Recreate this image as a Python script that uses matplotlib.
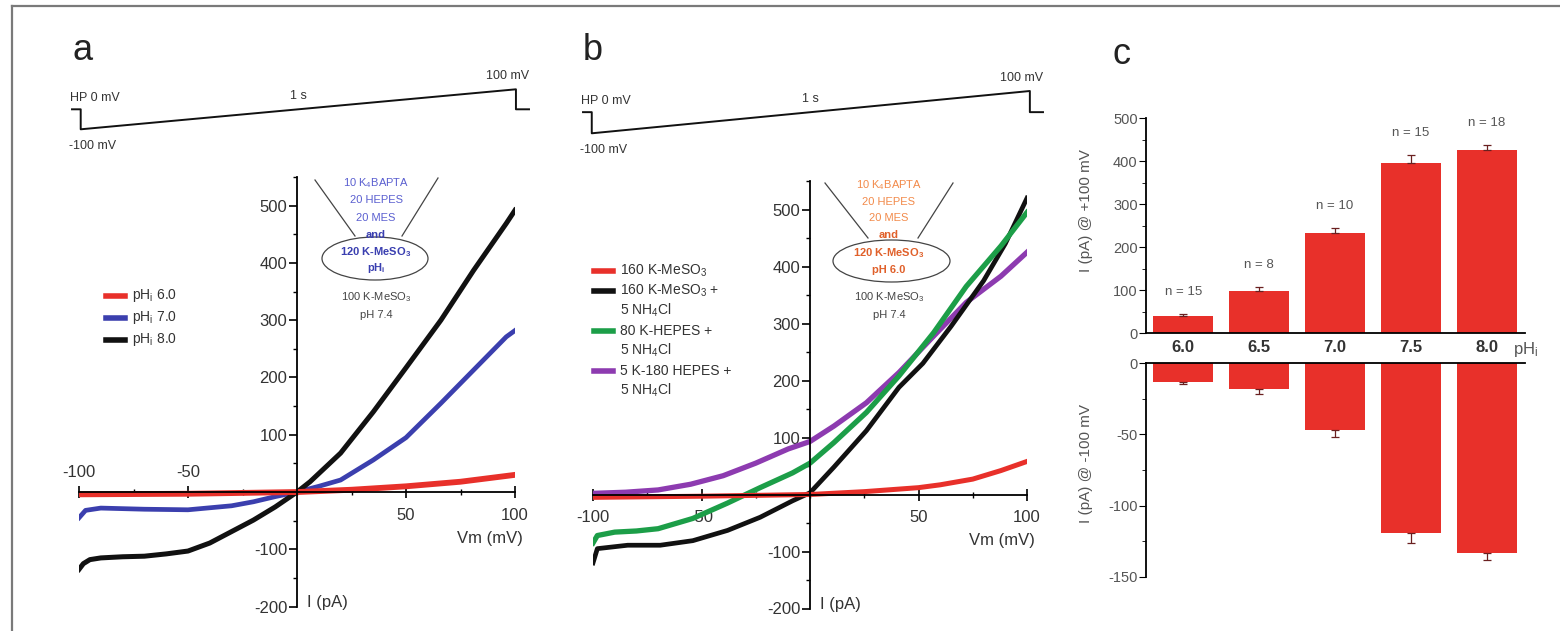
import matplotlib.pyplot as plt
from matplotlib.lines import Line2D
from matplotlib.patches import Ellipse
from matplotlib.transforms import Affine2D
from matplotlib.ticker import MultipleLocator

plt.rcParams['font.family'] = ['Liberation Sans Narrow', 'Liberation Sans', 'DejaVu Sans']
plt.rcParams['mathtext.default'] = 'regular'
plt.rcParams['axes.linewidth'] = 1.3
plt.rcParams['axes.unicode_minus'] = False

W, H = 1560, 631
TXT = '#333333'

# voltage command: hold at 0 mV, step to -100 mV, 1 s ramp to +100 mV, back to 0
ramp_t = [-0.02, 0, 0, 1, 1, 1.03]
ramp_v = [0, 0, -100, 100, 0, 0]

# panel a: I-V curves for three internal pH values
v_a_ph6 = [-100, -50, 0, 25, 50, 75, 100]
i_a_ph6 = [-4, -3, 0, 4, 10, 18, 30]
v_a_ph7 = [-100, -97, -90, -70, -50, -30, -20, -10, 0, 10, 20, 35, 50, 66, 81, 96, 100]
i_a_ph7 = [-45, -32, -28, -30, -31, -24, -17, -8, 0, 10, 21, 56, 95, 155, 213, 271, 282]
v_a_ph8 = [-100, -98, -95, -90, -80, -70, -60, -50, -40, -30, -20, -10, 0, 6, 20, 35, 50, 66, 81, 96, 100]
i_a_ph8 = [-135, -125, -118, -115, -113, -112, -108, -103, -89, -69, -49, -26, 0, 18, 68, 140, 217, 300, 387, 469, 492]

# panel b: I-V curves with NH4Cl loading
v_b_kmes = [-100, -50, 0, 25, 50, 60, 75, 88, 100]
i_b_kmes = [-5, -3, 0, 5, 12, 17, 27, 42, 58]
v_b_nh4 = [-100, -98, -84, -69, -54, -38, -23, -8, 0, 11, 26, 41, 52, 65, 80, 90, 100]
i_b_nh4 = [-120, -95, -89, -89, -81, -63, -40, -11, 3, 48, 112, 188, 230, 295, 375, 440, 520]
v_b_hepes80 = [-100, -98, -90, -80, -70, -54, -38, -23, -8, 0, 11, 26, 41, 57, 72, 88, 100]
i_b_hepes80 = [-85, -72, -66, -64, -60, -42, -15, 12, 38, 55, 91, 144, 208, 284, 365, 436, 495]
v_b_hepes180 = [-100, -85, -70, -55, -40, -25, -10, 0, 11, 26, 41, 57, 72, 88, 100]
i_b_hepes180 = [2, 4, 8, 18, 33, 55, 80, 93, 120, 161, 214, 278, 337, 383, 425]

# panel c: mean current at +100 / -100 mV vs internal pH
ph_labels = ['6.0', '6.5', '7.0', '7.5', '8.0']
i_pos = [40, 99, 234, 395, 426]
err_pos = [4, 9, 11, 20, 12]
i_neg = [-13, -18, -47, -119, -133]
err_neg = [1.5, 3.5, 4.5, 7, 5]
n_cells = [15, 8, 10, 15, 18]

RED = '#e8302a'
BLUE = '#3b3fae'
GREEN = '#1c9e48'
PURPLE = '#8d3bb0'

fig = plt.figure(figsize=(W / 100, H / 100), dpi=100)
pix = Affine2D().scale(1 / W, -1 / H).translate(0, 1) + fig.transFigure


def px_axes(x0, y0, x1, y1):
    return fig.add_axes([x0 / W, 1 - y1 / H, (x1 - x0) / W, (y1 - y0) / H])


# outer frame
fig.add_artist(Line2D([12, 12], [6, 700], color='#7a7a7a', lw=1.6, transform=pix))
fig.add_artist(Line2D([12, 1600], [6, 6], color='#7a7a7a', lw=1.6, transform=pix))

for lab, (x, y) in zip('abc', [(72, 50), (583, 50), (1113, 55)]):
    fig.text(x, y, lab, transform=pix, fontsize=26, color='#222222',
             ha='left', va='center', family=['Liberation Sans', 'DejaVu Sans'])


def protocol(box):
    ax = px_axes(*box)
    ax.plot(ramp_t, ramp_v, color='#111111', lw=1.4, clip_on=False)
    ax.set_xlim(-0.02, 1.03)
    ax.set_ylim(-100, 100)
    ax.axis('off')
    kw = dict(textcoords='offset pixels', fontsize=9, color=TXT)
    ax.annotate('HP 0 mV', (-0.02, 0), xytext=(-2, 11), ha='left', va='center', **kw)
    ax.annotate('-100 mV', (0, -100), xytext=(-12, -17), ha='left', va='center', **kw)
    ax.annotate('1 s', (0.5, 0), xytext=(0, 13), ha='center', va='center', **kw)
    ax.annotate('100 mV', (1.03, 100), xytext=(0, 13), ha='right', va='center', **kw)


protocol((72, 89.3, 529, 129.3))
protocol((583, 91, 1043, 133.3))


def iv_axes(box, neg_above):
    ax = px_axes(*box)
    ax.set_xlim(-100, 100)
    ax.set_ylim(-200, 550)
    for s in ('top', 'right'):
        ax.spines[s].set_visible(False)
    ax.spines['left'].set_position(('data', 0))
    ax.spines['bottom'].set_position(('data', 0))
    ax.spines['left'].set_bounds(-200, 550)
    ax.set_yticks([-200, -100, 100, 200, 300, 400, 500])
    ax.yaxis.set_minor_locator(MultipleLocator(50))
    ax.tick_params(axis='y', which='major', direction='out', length=6, width=1.2,
                   labelsize=12, labelcolor=TXT, pad=1)
    ax.tick_params(axis='y', which='minor', direction='out', length=3, width=1.0)
    ax.set_xticks([-100, -50, 50, 100])
    ax.xaxis.set_minor_locator(MultipleLocator(25))
    ax.tick_params(axis='x', which='major', direction='inout', length=8, width=1.2,
                   labelbottom=False)
    ax.tick_params(axis='x', which='minor', direction='inout', length=5, width=1.0)
    for v in [-100, -50, 50, 100]:
        dy = 20 if (v < 0 and neg_above) else -23
        ax.annotate(str(v), (v, 0), xytext=(0, dy), textcoords='offset pixels',
                    ha='center', va='center', fontsize=12, color=TXT, zorder=1)
    ax.annotate('Vm (mV)', (100, 0), xytext=(8, -46), textcoords='offset pixels',
                ha='right', va='center', fontsize=12, color=TXT)
    ax.annotate('I (pA)', (0, -200), xytext=(10, 4), textcoords='offset pixels',
                ha='left', va='center', fontsize=12, color=TXT)
    return ax


ax_a = iv_axes((79, 177, 515, 606.6), True)
ax_a.plot(v_a_ph7, i_a_ph7, color=BLUE, lw=3.4, solid_joinstyle='round')
ax_a.plot(v_a_ph8, i_a_ph8, color='#111111', lw=3.6, solid_joinstyle='round')
ax_a.plot(v_a_ph6, i_a_ph6, color=RED, lw=4.2, solid_joinstyle='round')

ax_b = iv_axes((593, 181, 1027, 608.5), False)
ax_b.plot(v_b_hepes180, i_b_hepes180, color=PURPLE, lw=3.8, solid_joinstyle='round')
ax_b.plot(v_b_nh4, i_b_nh4, color='#111111', lw=3.4, solid_joinstyle='round')
ax_b.plot(v_b_hepes80, i_b_hepes80, color=GREEN, lw=3.8, solid_joinstyle='round')
ax_b.plot(v_b_kmes, i_b_kmes, color=RED, lw=3.6, solid_joinstyle='round')


def legend_rows(x, rows):
    for y, color, text in rows:
        if color:
            fig.add_artist(Line2D([x, x + 19], [y, y], color=color, lw=4, transform=pix))
        fig.text(x + 26, y, text, transform=pix, fontsize=10, color=TXT,
                 ha='left', va='center')


legend_rows(106, [(296, RED, 'pH$_i$ 6.0'), (318, BLUE, 'pH$_i$ 7.0'),
                  (340, '#111111', 'pH$_i$ 8.0')])
legend_rows(594, [(271, RED, '160 K-MeSO$_3$'),
                  (291, '#111111', '160 K-MeSO$_3$ +'), (310, None, '5 NH$_4$Cl'),
                  (331, GREEN, '80 K-HEPES +'), (350, None, '5 NH$_4$Cl'),
                  (371, PURPLE, '5 K-180 HEPES +'), (390, None, '5 NH$_4$Cl')])


def pipette(cx, left, right, ell, lines, c_light, c_bold):
    for seg in (left, right):
        fig.add_artist(Line2D([seg[0], seg[2]], [seg[1], seg[3]], color='#444444',
                              lw=0.9, transform=pix))
    fig.add_artist(Ellipse(ell[0], ell[1], ell[2], fill=False, ec='#444444', lw=0.9,
                           transform=pix))
    for k, (y, text) in enumerate(lines):
        bold = k >= 3
        fig.text(cx, y, text, transform=pix, fontsize=8, ha='center', va='center',
                 color=c_bold if bold else c_light,
                 fontweight='bold' if bold else 'normal')
    fig.text(cx, 297, '100 K-MeSO$_3$', transform=pix, fontsize=8, ha='center',
             va='center', color='#444444')
    fig.text(cx, 315, 'pH 7.4', transform=pix, fontsize=8, ha='center',
             va='center', color='#444444')


pipette(376, (315, 180, 355, 236), (438, 178, 402, 236), ((375, 258.5), 106, 43),
        [(183, '10 K$_4$BAPTA'), (200, '20 HEPES'), (218, '20 MES'), (235, 'and'),
         (252, '120 K-MeSO$_3$'), (268, 'pH$_i$')], '#5a5fd0', '#3a3fb0')
pipette(889, (825, 183, 868, 238), (953, 183, 918, 238), ((891.5, 261), 117, 42),
        [(185, '10 K$_4$BAPTA'), (202, '20 HEPES'), (218, '20 MES'), (235, 'and'),
         (253, '120 K-MeSO$_3$'), (270, 'pH 6.0')], '#f28a4a', '#e0602a')

# panel c: bar charts
xpos = list(range(len(ph_labels)))
ax_c1 = px_axes(1146, 118, 1525, 333.3)
ax_c1.bar(xpos, i_pos, width=0.79, color=RED)
ax_c1.errorbar(xpos, i_pos, yerr=[[0] * 5, err_pos], fmt='none', ecolor='#6a2020',
               elinewidth=0.9, capsize=3, capthick=0.9)
for x, y, e, n in zip(xpos, i_pos, err_pos, n_cells):
    ax_c1.annotate(f'n = {n}', (x, y + e), xytext=(0, 22), textcoords='offset pixels',
                   ha='center', va='center', fontsize=9.5, color='#555555')
ax_c1.set_xlim(-0.49, 4.5)
ax_c1.set_ylim(0, 500)
ax_c1.spines['top'].set_visible(False)
ax_c1.spines['right'].set_visible(False)
ax_c1.set_yticks([0, 100, 200, 300, 400, 500])
ax_c1.yaxis.set_minor_locator(MultipleLocator(50))
ax_c1.tick_params(axis='y', which='major', length=5, labelsize=10.5, labelcolor='#555555', pad=1)
ax_c1.tick_params(axis='y', which='minor', length=3)
ax_c1.set_xticks(xpos, ph_labels, fontweight='bold')
ax_c1.tick_params(axis='x', length=0, pad=5, labelsize=12, labelcolor='#333333')
ax_c1.annotate('pH$_i$', (1, 0), xycoords='axes fraction', xytext=(-12, -16),
               textcoords='offset pixels', ha='left', va='center', fontsize=12,
               color='#555555')
ax_c1.set_ylabel('I (pA) @ +100 mV', fontsize=11, color='#555555')
ax_c1.yaxis.set_label_coords(-0.14, 0.57)

ax_c2 = px_axes(1146, 363.3, 1525, 576.7)
ax_c2.bar(xpos, i_neg, width=0.79, color=RED)
ax_c2.errorbar(xpos, i_neg, yerr=[err_neg, [0] * 5], fmt='none', ecolor='#6a2020',
               elinewidth=0.9, capsize=3, capthick=0.9)
ax_c2.set_xlim(-0.49, 4.5)
ax_c2.set_ylim(-150, 0)
ax_c2.spines['bottom'].set_visible(False)
ax_c2.spines['right'].set_visible(False)
ax_c2.set_xticks([])
ax_c2.set_yticks([-150, -100, -50, 0])
ax_c2.yaxis.set_minor_locator(MultipleLocator(25))
ax_c2.tick_params(axis='y', which='major', length=5, labelsize=10.5, labelcolor='#555555', pad=1)
ax_c2.tick_params(axis='y', which='minor', length=3)
ax_c2.set_ylabel('I (pA) @ -100 mV', fontsize=11, color='#555555')
ax_c2.yaxis.set_label_coords(-0.14, 0.53)

fig.savefig('out.png', dpi=100)
